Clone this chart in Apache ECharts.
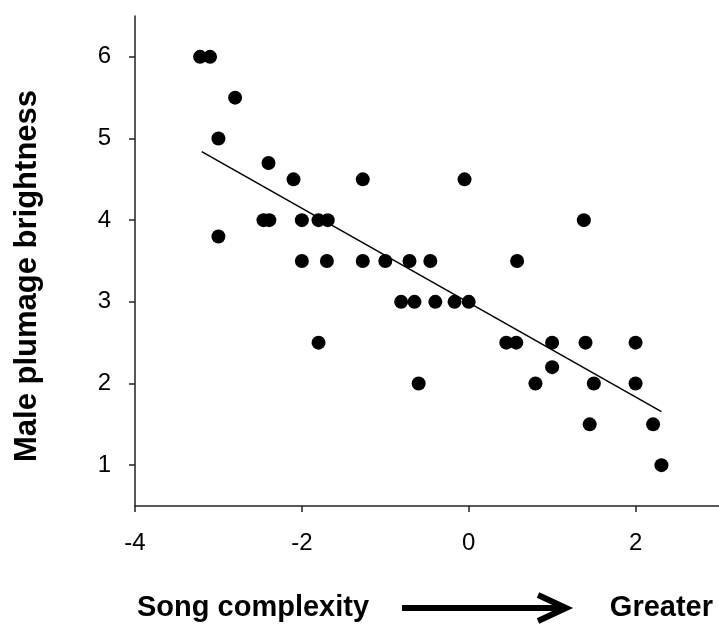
<!DOCTYPE html>
<html>
<head>
<meta charset="utf-8">
<script src="https://cdn.jsdelivr.net/npm/echarts@6/dist/echarts.min.js"></script>
<style>
  html, body { margin: 0; padding: 0; background: #fff; }
  #chart { width: 719px; height: 624px; }
</style>
</head>
<body>
<div id="chart"></div>
<script>
// song complexity (x) and male plumage brightness (y)
var songComplexity = [
    -3.22, -3.10, -2.80, -3.00, -3.00, -2.40, -2.10, -1.27, -0.05,
    -2.46, -2.39, -2.00, -1.80, -1.69, 1.38,
    -2.00, -1.70, -1.27, -1.00, -0.71, -0.46, 0.58,
    -0.81, -0.65, -0.40, -0.17, 0.00,
    -1.80, 0.45, 0.57, 1.00, 1.40, 2.00,
    1.00,
    -0.60, 0.80, 1.50, 2.00,
    1.45, 2.21,
    2.31
];
var plumageBrightness = [
    6, 6, 5.5, 5, 3.8, 4.7, 4.5, 4.5, 4.5,
    4, 4, 4, 4, 4, 4,
    3.5, 3.5, 3.5, 3.5, 3.5, 3.5, 3.5,
    3, 3, 3, 3, 3,
    2.5, 2.5, 2.5, 2.5, 2.5, 2.5,
    2.2,
    2, 2, 2, 2,
    1.5, 1.5,
    1
];
// regression line end points
var fitX = [-3.2, 2.31];
var fitY = [4.84, 1.655];

var xTicks = [-4, -2, 0, 2];
var yTicks = [1, 2, 3, 4, 5, 6];

var points = [];
for (var i = 0; i < songComplexity.length; i++) {
    points.push([songComplexity[i], plumageBrightness[i]]);
}
var fitLine = [];
for (var j = 0; j < fitX.length; j++) {
    fitLine.push([fitX[j], fitY[j]]);
}

var chart = echarts.init(document.getElementById('chart'));
var axisColor = '#222';
var option = {
    animation: false,
    grid: { left: 135, right: 0, top: 16, bottom: 118 },
    xAxis: {
        type: 'value',
        min: -4,
        max: 3,
        splitLine: { show: false },
        axisLine: { onZero: false, lineStyle: { color: axisColor, width: 1.5 } },
        axisTick: { show: true, inside: false, length: 6, customValues: xTicks, lineStyle: { color: axisColor, width: 1.5 } },
        axisLabel: {
            customValues: xTicks,
            margin: 25,
            color: '#000',
            fontSize: 24,
            fontFamily: 'Liberation Sans, Arial, sans-serif'
        }
    },
    yAxis: {
        type: 'value',
        min: 0.5,
        max: 6.5,
        splitLine: { show: false },
        axisLine: { show: true, onZero: false, lineStyle: { color: axisColor, width: 1.5 } },
        axisTick: { show: true, inside: false, length: 6, customValues: yTicks, lineStyle: { color: axisColor, width: 1.5 } },
        axisLabel: {
            customValues: yTicks,
            margin: 24,
            color: '#000',
            fontSize: 24,
            fontFamily: 'Liberation Sans, Arial, sans-serif'
        }
    },
    graphic: [
        {
            type: 'text',
            x: 27,
            y: 276,
            rotation: Math.PI / 2,
            style: {
                text: 'Male plumage brightness',
                fill: '#000',
                font: 'bold 31px "Liberation Sans", Arial, sans-serif',
                align: 'center',
                verticalAlign: 'middle'
            }
        },
        {
            type: 'text',
            x: 137,
            y: 608,
            style: {
                text: 'Song complexity',
                fill: '#000',
                font: 'bold 29px "Liberation Sans", Arial, sans-serif',
                align: 'left',
                verticalAlign: 'middle'
            }
        },
        {
            type: 'text',
            x: 713,
            y: 608,
            style: {
                text: 'Greater',
                fill: '#000',
                font: 'bold 29px "Liberation Sans", Arial, sans-serif',
                align: 'right',
                verticalAlign: 'middle'
            }
        },
        {
            type: 'line',
            shape: { x1: 402, y1: 608, x2: 562, y2: 608 },
            style: { stroke: '#000', lineWidth: 6 }
        },
        {
            type: 'polyline',
            shape: { points: [[538, 595], [566, 608], [538, 621]] },
            style: { stroke: '#000', lineWidth: 6, fill: null, lineJoin: 'miter' }
        }
    ],
    series: [
        {
            type: 'line',
            data: fitLine,
            symbol: 'none',
            lineStyle: { color: '#000', width: 1.5 },
            z: 1
        },
        {
            type: 'scatter',
            data: points,
            symbol: 'circle',
            symbolSize: 14,
            itemStyle: { color: '#000', opacity: 1 },
            z: 2
        }
    ]
};
chart.setOption(option);
</script>
</body>
</html>
